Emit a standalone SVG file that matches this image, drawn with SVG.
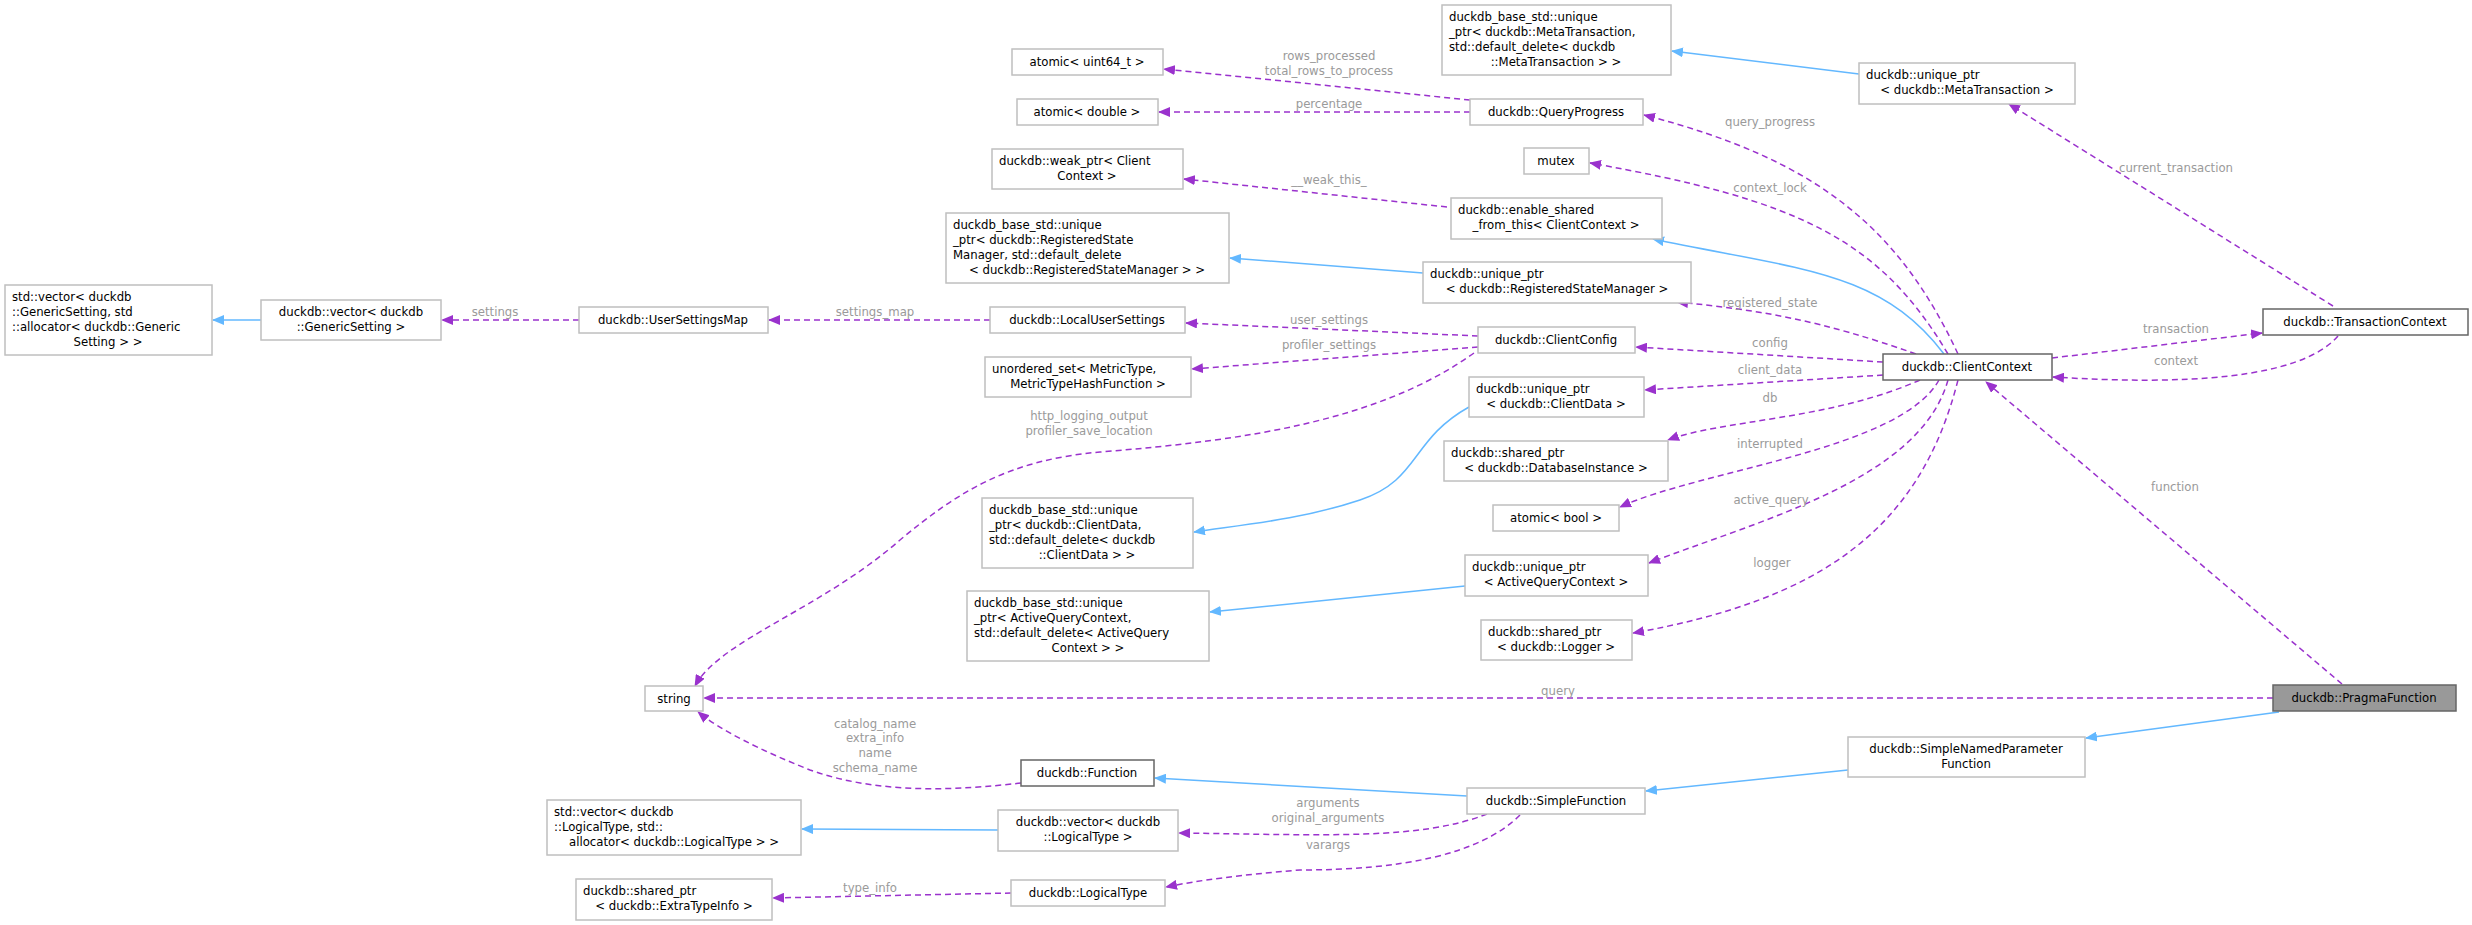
<svg xmlns="http://www.w3.org/2000/svg" width="2472" height="925" viewBox="0 0 2472 925">
<style>
.n rect{fill:#fff;stroke:#bfbfbf;stroke-width:1.5}
.n.d rect{stroke:#666}
.n.g rect{fill:#999;stroke:#666}
text{font-family:"DejaVu Sans Condensed","DejaVu Sans",sans-serif;font-size:13px;fill:#000}
.c{text-anchor:middle}
.lb{fill:#9a9a9a;text-anchor:middle;font-size:13px}
.b{fill:none;stroke:#63b8ff;stroke-width:1.5;marker-end:url(#ab)}
.p{fill:none;stroke:#9a32cd;stroke-width:1.5;stroke-dasharray:6,4;marker-end:url(#ap)}
</style>
<defs>
<marker id="ab" markerWidth="12" markerHeight="10" refX="11" refY="5" orient="auto" markerUnits="userSpaceOnUse"><path d="M0,0L12,5L0,10z" fill="#63b8ff"/></marker>
<marker id="ap" markerWidth="12" markerHeight="10" refX="11" refY="5" orient="auto" markerUnits="userSpaceOnUse"><path d="M0,0L12,5L0,10z" fill="#9a32cd"/></marker>
</defs>
<rect width="2472" height="925" fill="#fff"/>
<g id="connectors">
<path class="b" d="M261,320L213,320"/>
<path class="b" d="M1859,74L1672,51"/>
<path class="b" d="M1423,273L1230,258"/>
<path class="b" d="M1944,354C1880,270 1800,270 1653,239"/>
<path class="b" d="M1469,407C1410,440 1420,480 1360,500S1240,525 1194,532"/>
<path class="b" d="M1465,586L1210,612"/>
<path class="b" d="M1467,796L1155,778"/>
<path class="b" d="M998,830L802,829"/>
<path class="b" d="M1848,770L1646,791"/>
<path class="b" d="M2279,712L2086,738"/>
<path class="p" d="M1470,100L1164,69"/>
<path class="p" d="M1470,112L1159,112"/>
<path class="p" d="M1958,354C1900,230 1820,160 1644,115"/>
<path class="p" d="M1948,354C1880,240 1800,200 1590,163"/>
<path class="p" d="M1447,207L1184,179"/>
<path class="p" d="M1916,354C1820,320 1760,310 1677,302"/>
<path class="p" d="M1478,336L1186,323"/>
<path class="p" d="M1478,347L1192,369"/>
<path class="p" d="M1474,353C1380,420 1250,440 1100,452C1010,460 960,490 900,540C820,610 720,640 695,686"/>
<path class="p" d="M990,320L769,320"/>
<path class="p" d="M579,320L442,320"/>
<path class="p" d="M1883,362L1636,347"/>
<path class="p" d="M1883,375L1645,390"/>
<path class="p" d="M1920,380C1830,420 1720,420 1668,440"/>
<path class="p" d="M1939,380C1900,450 1700,470 1620,507"/>
<path class="p" d="M1948,380C1920,480 1760,520 1649,563"/>
<path class="p" d="M1958,380C1920,530 1820,600 1633,633"/>
<path class="p" d="M2342,684L1986,382"/>
<path class="p" d="M2052,358L2262,333"/>
<path class="p" d="M2338,336C2300,380 2180,385 2053,377"/>
<path class="p" d="M2333,306L2009,104"/>
<path class="p" d="M2273,698L704,698"/>
<path class="p" d="M1021,783C960,790 880,795 810,770C760,750 720,730 698,712"/>
<path class="p" d="M1487,814C1420,840 1330,835 1179,833"/>
<path class="p" d="M1520,815C1480,855 1400,870 1300,870C1240,875 1200,880 1166,887"/>
<path class="p" d="M1011,893L773,898"/>
<text class="lb" x="1329" y="60">rows_processed</text>
<text class="lb" x="1329" y="75">total_rows_to_process</text>
<text class="lb" x="1329" y="108">percentage</text>
<text class="lb" x="1770" y="126">query_progress</text>
<text class="lb" x="1770" y="192">context_lock</text>
<text class="lb" x="1329" y="184">__weak_this_</text>
<text class="lb" x="1770" y="307">registered_state</text>
<text class="lb" x="1329" y="324">user_settings</text>
<text class="lb" x="1329" y="349">profiler_settings</text>
<text class="lb" x="1089" y="420">http_logging_output</text>
<text class="lb" x="1089" y="435">profiler_save_location</text>
<text class="lb" x="875" y="316">settings_map</text>
<text class="lb" x="495" y="316">settings</text>
<text class="lb" x="1770" y="347">config</text>
<text class="lb" x="1770" y="374">client_data</text>
<text class="lb" x="1770" y="402">db</text>
<text class="lb" x="1770" y="448">interrupted</text>
<text class="lb" x="1771" y="504">active_query</text>
<text class="lb" x="1772" y="567">logger</text>
<text class="lb" x="2175" y="491">function</text>
<text class="lb" x="2176" y="333">transaction</text>
<text class="lb" x="2176" y="365">context</text>
<text class="lb" x="2176" y="172">current_transaction</text>
<text class="lb" x="1558" y="695">query</text>
<text class="lb" x="875" y="728">catalog_name</text>
<text class="lb" x="875" y="742">extra_info</text>
<text class="lb" x="875" y="757">name</text>
<text class="lb" x="875" y="772">schema_name</text>
<text class="lb" x="1328" y="807">arguments</text>
<text class="lb" x="1328" y="822">original_arguments</text>
<text class="lb" x="1328" y="849">varargs</text>
<text class="lb" x="870" y="892">type_info</text>
</g>
<g id="n1" class="n"><rect x="5" y="285" width="207" height="70"/><text x="12" y="301">std::vector&lt; duckdb</text><text x="12" y="316">::GenericSetting, std</text><text x="12" y="331">::allocator&lt; duckdb::Generic</text><text class="c" x="108" y="346">Setting &gt; &gt;</text></g>
<g id="n2" class="n"><rect x="261" y="300" width="180" height="40"/><text class="c" x="351" y="316">duckdb::vector&lt; duckdb</text><text class="c" x="351" y="331">::GenericSetting &gt;</text></g>
<g id="n3" class="n"><rect x="579" y="307" width="189" height="26"/><text class="c" x="673" y="324">duckdb::UserSettingsMap</text></g>
<g id="n4" class="n"><rect x="990" y="307" width="195" height="26"/><text class="c" x="1087" y="324">duckdb::LocalUserSettings</text></g>
<g id="n5" class="n"><rect x="1012" y="49" width="151" height="26"/><text class="c" x="1087" y="66">atomic&lt; uint64_t &gt;</text></g>
<g id="n6" class="n"><rect x="1017" y="99" width="141" height="26"/><text class="c" x="1087" y="116">atomic&lt; double &gt;</text></g>
<g id="n7" class="n"><rect x="992" y="149" width="191" height="40"/><text x="999" y="165">duckdb::weak_ptr&lt; Client</text><text class="c" x="1087" y="180">Context &gt;</text></g>
<g id="n8" class="n"><rect x="946" y="213" width="283" height="70"/><text x="953" y="229">duckdb_base_std::unique</text><text x="953" y="244">_ptr&lt; duckdb::RegisteredState</text><text x="953" y="259">Manager, std::default_delete</text><text class="c" x="1087" y="274">&lt; duckdb::RegisteredStateManager &gt; &gt;</text></g>
<g id="n9" class="n"><rect x="985" y="357" width="206" height="40"/><text x="992" y="373">unordered_set&lt; MetricType,</text><text class="c" x="1088" y="388">MetricTypeHashFunction &gt;</text></g>
<g id="n10" class="n"><rect x="1442" y="5" width="229" height="70"/><text x="1449" y="21">duckdb_base_std::unique</text><text x="1449" y="36">_ptr&lt; duckdb::MetaTransaction,</text><text x="1449" y="51">std::default_delete&lt; duckdb</text><text class="c" x="1556" y="66">::MetaTransaction &gt; &gt;</text></g>
<g id="n11" class="n"><rect x="1859" y="63" width="216" height="41"/><text x="1866" y="79">duckdb::unique_ptr</text><text class="c" x="1967" y="94">&lt; duckdb::MetaTransaction &gt;</text></g>
<g id="n12" class="n"><rect x="1470" y="99" width="173" height="26"/><text class="c" x="1556" y="116">duckdb::QueryProgress</text></g>
<g id="n13" class="n"><rect x="1524" y="148" width="65" height="26"/><text class="c" x="1556" y="165">mutex</text></g>
<g id="n14" class="n"><rect x="1451" y="198" width="211" height="41"/><text x="1458" y="214">duckdb::enable_shared</text><text class="c" x="1556" y="229">_from_this&lt; ClientContext &gt;</text></g>
<g id="n15" class="n"><rect x="1423" y="262" width="268" height="41"/><text x="1430" y="278">duckdb::unique_ptr</text><text class="c" x="1557" y="293">&lt; duckdb::RegisteredStateManager &gt;</text></g>
<g id="n16" class="n"><rect x="1478" y="327" width="157" height="26"/><text class="c" x="1556" y="344">duckdb::ClientConfig</text></g>
<g id="n17" class="n d"><rect x="1883" y="354" width="169" height="26"/><text class="c" x="1967" y="371">duckdb::ClientContext</text></g>
<g id="n18" class="n d"><rect x="2263" y="309" width="205" height="26"/><text class="c" x="2365" y="326">duckdb::TransactionContext</text></g>
<g id="n19" class="n"><rect x="1469" y="377" width="175" height="40"/><text x="1476" y="393">duckdb::unique_ptr</text><text class="c" x="1556" y="408">&lt; duckdb::ClientData &gt;</text></g>
<g id="n20" class="n"><rect x="1444" y="441" width="224" height="40"/><text x="1451" y="457">duckdb::shared_ptr</text><text class="c" x="1556" y="472">&lt; duckdb::DatabaseInstance &gt;</text></g>
<g id="n21" class="n"><rect x="1493" y="505" width="126" height="26"/><text class="c" x="1556" y="522">atomic&lt; bool &gt;</text></g>
<g id="n22" class="n"><rect x="1465" y="555" width="183" height="41"/><text x="1472" y="571">duckdb::unique_ptr</text><text class="c" x="1556" y="586">&lt; ActiveQueryContext &gt;</text></g>
<g id="n23" class="n"><rect x="1481" y="620" width="151" height="40"/><text x="1488" y="636">duckdb::shared_ptr</text><text class="c" x="1556" y="651">&lt; duckdb::Logger &gt;</text></g>
<g id="n24" class="n g"><rect x="2273" y="685" width="183" height="26"/><text class="c" x="2364" y="702">duckdb::PragmaFunction</text></g>
<g id="n25" class="n"><rect x="1848" y="737" width="237" height="40"/><text class="c" x="1966" y="753">duckdb::SimpleNamedParameter</text><text class="c" x="1966" y="768">Function</text></g>
<g id="n26" class="n"><rect x="1467" y="788" width="178" height="26"/><text class="c" x="1556" y="805">duckdb::SimpleFunction</text></g>
<g id="n27" class="n"><rect x="982" y="498" width="211" height="70"/><text x="989" y="514">duckdb_base_std::unique</text><text x="989" y="529">_ptr&lt; duckdb::ClientData,</text><text x="989" y="544">std::default_delete&lt; duckdb</text><text class="c" x="1087" y="559">::ClientData &gt; &gt;</text></g>
<g id="n28" class="n"><rect x="967" y="591" width="242" height="70"/><text x="974" y="607">duckdb_base_std::unique</text><text x="974" y="622">_ptr&lt; ActiveQueryContext,</text><text x="974" y="637">std::default_delete&lt; ActiveQuery</text><text class="c" x="1088" y="652">Context &gt; &gt;</text></g>
<g id="n29" class="n"><rect x="645" y="686" width="58" height="25"/><text class="c" x="674" y="703">string</text></g>
<g id="n30" class="n d"><rect x="1021" y="760" width="133" height="26"/><text class="c" x="1087" y="777">duckdb::Function</text></g>
<g id="n31" class="n"><rect x="547" y="800" width="254" height="55"/><text x="554" y="816">std::vector&lt; duckdb</text><text x="554" y="831">::LogicalType, std::</text><text class="c" x="674" y="846">allocator&lt; duckdb::LogicalType &gt; &gt;</text></g>
<g id="n32" class="n"><rect x="998" y="810" width="180" height="41"/><text class="c" x="1088" y="826">duckdb::vector&lt; duckdb</text><text class="c" x="1088" y="841">::LogicalType &gt;</text></g>
<g id="n33" class="n"><rect x="576" y="879" width="196" height="41"/><text x="583" y="895">duckdb::shared_ptr</text><text class="c" x="674" y="910">&lt; duckdb::ExtraTypeInfo &gt;</text></g>
<g id="n34" class="n"><rect x="1011" y="880" width="154" height="26"/><text class="c" x="1088" y="897">duckdb::LogicalType</text></g>
</svg>
